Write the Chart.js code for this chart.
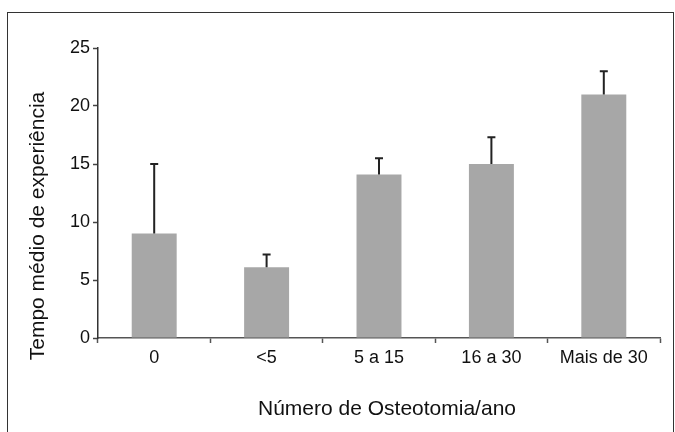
<!DOCTYPE html>
<html>
<head>
<meta charset="utf-8">
<script src="https://cdn.jsdelivr.net/npm/chart.js@4/dist/chart.umd.min.js"></script>
<style>
  html, body { margin: 0; padding: 0; background: #fff; overflow: hidden; }
  #wrap { position: relative; width: 675px; height: 432px; }
  #frame {
    position: absolute; left: 7px; top: 12px; width: 667px; height: 440px;
    border: 1.5px solid #333; box-sizing: border-box;
  }
  #chart { position: absolute; left: 0; top: 0; }
</style>
</head>
<body>
<div id="wrap">
  <div id="frame"></div>
  <canvas id="chart" width="675" height="432"></canvas>
</div>
<script>
// Categories and values
const categories = ["0", "<5", "5 a 15", "16 a 30", "Mais de 30"];
const meanValues = [9, 6.1, 14.1, 15, 21];
const errorValues = [6, 1.1, 1.4, 2.3, 2];
const yTicks = [0, 5, 10, 15, 20, 25];

const fontFamily = "'Liberation Sans', Arial, Helvetica, sans-serif";

// Draw the upper error bars using the y scale
const errorBarPlugin = {
  id: "errorBars",
  afterDatasetsDraw(chart) {
    const ctx = chart.ctx;
    const yScale = chart.scales.y;
    const meta = chart.getDatasetMeta(0);
    ctx.save();
    ctx.strokeStyle = "#222";
    ctx.lineWidth = 2;
    meta.data.forEach((bar, i) => {
      const x = bar.x;
      const yBase = yScale.getPixelForValue(meanValues[i]);
      const yTop = yScale.getPixelForValue(meanValues[i] + errorValues[i]);
      ctx.beginPath();
      ctx.moveTo(x, yBase);
      ctx.lineTo(x, yTop);
      ctx.moveTo(x - 4, yTop);
      ctx.lineTo(x + 4, yTop);
      ctx.stroke();
    });
    ctx.restore();
  },
};

// Axis titles, placed where the original has them (not exactly centred)
const axisTitlePlugin = {
  id: "axisTitles",
  afterDraw(chart) {
    const ctx = chart.ctx;
    ctx.save();
    ctx.font = "21px " + fontFamily;
    ctx.fillStyle = "#111";
    ctx.textAlign = "center";
    ctx.textBaseline = "alphabetic";
    ctx.fillText("Número de Osteotomia/ano", 387, 415);
    ctx.translate(44, 226);
    ctx.rotate(-Math.PI / 2);
    ctx.fillText("Tempo médio de experiência", 0, 0);
    ctx.restore();
  },
};

const ctx = document.getElementById("chart").getContext("2d");

const data = {
  labels: categories,
  datasets: [
    {
      data: meanValues,
      backgroundColor: "#a7a7a7",
      borderWidth: 0,
      barPercentage: 0.4,
      categoryPercentage: 1.0,
    },
  ],
};

const config = {
  type: "bar",
  data: data,
  options: {
    responsive: false,
    animation: false,
    layout: {
      padding: { left: 0, top: 48, right: 15, bottom: 0 },
    },
    plugins: {
      legend: { display: false },
      tooltip: { enabled: false },
    },
    scales: {
      x: {
        grid: {
          drawOnChartArea: false,
          drawTicks: true,
          tickLength: 5,
          tickWidth: 1.5,
          tickColor: "#555",
          offset: true,
        },
        border: { display: true, color: "#555", width: 1.5 },
        ticks: {
          color: "#111",
          padding: 4,
          font: { family: fontFamily, size: 18 },
        },
        afterFit(scale) {
          scale.height = 94;
        },
      },
      y: {
        min: 0,
        max: 25,
        afterBuildTicks(scale) {
          scale.ticks = yTicks.map((v) => ({ value: v }));
        },
        grid: {
          drawOnChartArea: false,
          drawTicks: true,
          tickLength: 5,
          tickWidth: 1.5,
          tickColor: "#444",
        },
        border: { display: true, color: "#333", width: 1.5 },
        ticks: {
          color: "#111",
          padding: 3,
          font: { family: fontFamily, size: 18 },
        },
        afterFit(scale) {
          scale.width = 98;
        },
      },
    },
  },
  plugins: [errorBarPlugin, axisTitlePlugin],
};

let myChart = new Chart(ctx, config);
</script>
</body>
</html>
